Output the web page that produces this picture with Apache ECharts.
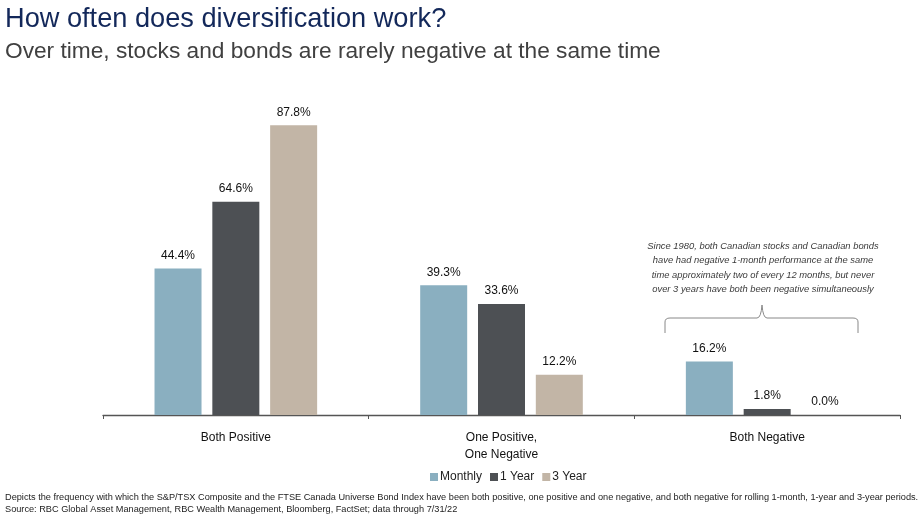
<!DOCTYPE html>
<html><head><meta charset="utf-8">
<script src="https://cdn.jsdelivr.net/npm/echarts@6/dist/echarts.min.js"></script>
<style>html,body{margin:0;padding:0;background:#fff}#c{width:922px;height:516px}</style>
</head><body><div id="c"></div>
<script>
var categories = ['Both Positive', 'One Positive,\nOne Negative', 'Both Negative'];
var seriesNames = ['Monthly', '1 Year', '3 Year'];
var monthly = [44.4, 39.3, 16.2];
var oneYear = [64.6, 33.6, 1.8];
var threeYear = [87.8, 12.2, 0.0];
var colors = ['#8aafc0', '#4d5054', '#c2b5a6'];

var chart = echarts.init(document.getElementById('c'), null, {renderer: 'canvas'});
var font = 'Liberation Sans, Arial, sans-serif';
function mk(name, data, color) {
  return {
    name: name, type: 'bar', data: data, barWidth: 47, barGap: '23%',
    itemStyle: {color: color},
    label: {show: true, position: 'top', distance: 7, formatter: function(p){return p.value.toFixed(1)+'%';},
      color: '#111', fontSize: 12, fontFamily: font}
  };
}
var bz = {stroke: '#888', fill: null, lineWidth: 1};
chart.setOption({
  animation: false,
  textStyle: {fontFamily: font},
  title: [
    {text: 'How often does diversification work?', left: 0, top: 1,
     textStyle: {color: '#13285a', fontSize: 27.2, fontWeight: 'normal', fontFamily: font}},
    {text: 'Over time, stocks and bonds are rarely negative at the same time', left: 0, top: 35,
     textStyle: {color: '#404040', fontSize: 22.7, fontWeight: 'normal', fontFamily: font}}
  ],
  legend: {
    data: seriesNames, left: 425, top: 466, itemWidth: 8, itemHeight: 8, itemGap: 8,
    icon: 'rect', textStyle: {fontSize: 12, color: '#222', padding: [0,0,0,-3]}
  },
  grid: {left: 103, right: 22, top: 85, bottom: 101},
  xAxis: {
    type: 'category', data: categories,
    axisLine: {lineStyle: {color: '#555', width: 1.3}},
    axisTick: {show: true, length: 4, lineStyle: {color: '#555'}},
    axisLabel: {color: '#111', fontSize: 12, margin: 14, lineHeight: 17}
  },
  yAxis: {type: 'value', min: 0, max: 100, show: false, splitLine: {show: false}},
  series: [mk(seriesNames[0], monthly, colors[0]), mk(seriesNames[1], oneYear, colors[1]), mk(seriesNames[2], threeYear, colors[2])],
  graphic: [
    {type: 'text', x: 763, y: 239, silent: true,
     style: {text: 'Since 1980, both Canadian stocks and Canadian bonds\nhave had negative 1-month performance at the same\ntime approximately two of every 12 months, but never\nover 3 years have both been negative simultaneously',
       align: 'center', textAlign: 'center', fontSize: 9.4, fontStyle: 'italic', fill: '#3a3a3a', lineHeight: 14.5, fontFamily: font}},
    {type: 'line', silent: true, shape: {x1: 665, y1: 333, x2: 665, y2: 322}, style: bz},
    {type: 'bezierCurve', silent: true, shape: {x1: 665, y1: 322, cpx1: 665, cpy1: 318, x2: 670, y2: 318}, style: bz},
    {type: 'line', silent: true, shape: {x1: 670, y1: 318, x2: 757, y2: 318}, style: bz},
    {type: 'bezierCurve', silent: true, shape: {x1: 757, y1: 318, cpx1: 761, cpy1: 318, x2: 762, y2: 305}, style: bz},
    {type: 'bezierCurve', silent: true, shape: {x1: 762, y1: 305, cpx1: 763, cpy1: 318, x2: 767, y2: 318}, style: bz},
    {type: 'line', silent: true, shape: {x1: 767, y1: 318, x2: 853, y2: 318}, style: bz},
    {type: 'bezierCurve', silent: true, shape: {x1: 853, y1: 318, cpx1: 858, cpy1: 318, x2: 858, y2: 322}, style: bz},
    {type: 'line', silent: true, shape: {x1: 858, y1: 322, x2: 858, y2: 333}, style: bz},
    {type: 'text', x: 5, y: 491, silent: true,
     style: {text: 'Depicts the frequency with which the S&P/TSX Composite and the FTSE Canada Universe Bond Index have been both positive, one positive and one negative, and both negative for rolling 1-month, 1-year and 3-year periods.\nSource: RBC Global Asset Management, RBC Wealth Management, Bloomberg, FactSet; data through 7/31/22',
       fontSize: 9.2, fill: '#222', lineHeight: 12, fontFamily: font}}
  ]
});
</script></body></html>
